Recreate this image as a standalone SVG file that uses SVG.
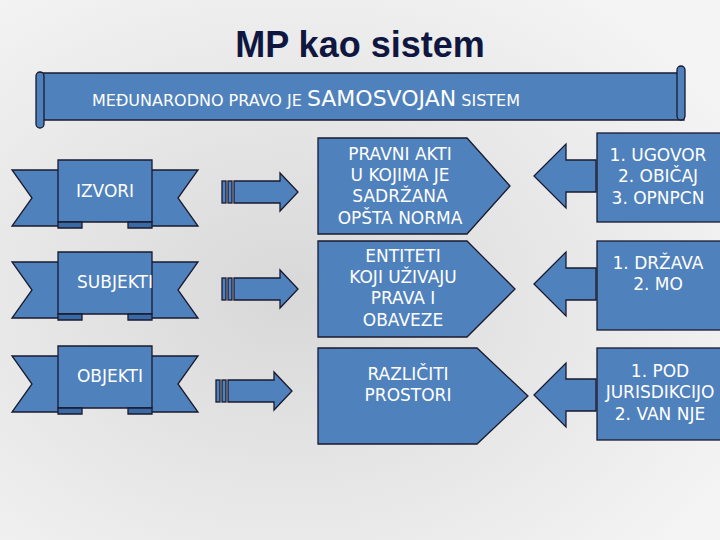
<svg xmlns="http://www.w3.org/2000/svg" width="720" height="540" viewBox="0 0 720 540">
<style>
.s{fill:#4f81bd;stroke:#1a1a2e;stroke-width:1.3}
.t{fill:#fff;font-family:"DejaVu Sans",sans-serif;font-size:17px;text-anchor:middle}
.d{fill:#3a6aa5;stroke:#1a1a2e;stroke-width:1.3}
</style>
<defs>
<radialGradient id="bg" cx="0.4" cy="0.55" r="0.7"><stop offset="0" stop-color="#d8d8d8"/><stop offset="1" stop-color="#f4f4f4"/></radialGradient>
<g id="rarrow"><rect class="s" x="0" y="-11" width="4" height="22"/><rect class="s" x="6" y="-11" width="4" height="22"/><path class="s" d="M12,-11H58V-19L76,0L58,19V11H12Z"/></g>
<g id="larrow"><path class="s" d="M0,0L32,-32V-16H62V16H32V32Z"/></g>
<g id="rib"><path class="s" d="M12,4H60V60H12L32,32Z"/><path class="s" d="M198,4H150V60H198L178,32Z"/><path class="s" d="M58,-6H152V56H58Z"/><path class="d" d="M58,56h24v6h-24zM128,56h24v6h-24z"/></g>
</defs>
<rect width="720" height="540" fill="url(#bg)"/>
<text x="360" y="57" font-family="Liberation Sans,sans-serif" font-size="36" font-weight="bold" text-anchor="middle" fill="#0f1740">MP kao sistem</text>
<g id="banner"><path class="s" d="M40,73H684V120H40Z"/><rect class="s" x="36" y="72" width="8" height="56" rx="4"/><rect class="s" x="677" y="66" width="8" height="54" rx="4"/>
<text x="92" y="106" font-family="DejaVu Sans,sans-serif" font-size="16" fill="#fff">MEĐUNARODNO PRAVO JE <tspan font-size="22">SAMOSVOJAN</tspan> SISTEM</text></g>
<g id="izvori"><use href="#rib" x="0" y="166"/><text class="t" x="105" y="197">IZVORI</text></g>
<g id="subjekti"><use href="#rib" x="0" y="258"/><text class="t" x="115" y="288">SUBJEKTI</text></g>
<g id="objekti"><use href="#rib" x="0" y="352"/><text class="t" x="110" y="382">OBJEKTI</text></g>
<g id="pravni"><path class="s" d="M318,138H467L510,186L467,234H318Z"/><text class="t"><tspan x="400" y="160">PRAVNI AKTI</tspan><tspan x="400" y="181">U KOJIMA JE</tspan><tspan x="400" y="202">SADRŽANA</tspan><tspan x="400" y="224">OPŠTA NORMA</tspan></text></g>
<g id="entiteti"><path class="s" d="M318,241H467L515,289L467,337H318Z"/><text class="t"><tspan x="403" y="262">ENTITETI</tspan><tspan x="403" y="283">KOJI UŽIVAJU</tspan><tspan x="403" y="304">PRAVA I</tspan><tspan x="403" y="326">OBAVEZE</tspan></text></g>
<g id="razliciti"><path class="s" d="M318,348H477L528,396L477,444H318Z"/><text class="t"><tspan x="408" y="380">RAZLIČITI</tspan><tspan x="408" y="401">PROSTORI</tspan></text></g>
<g id="b1"><rect class="s" x="597" y="133" width="130" height="89"/><text class="t"><tspan x="658" y="161">1.  UGOVOR</tspan><tspan x="658" y="182">2.  OBIČAJ</tspan><tspan x="658" y="204">3.  OPNPCN</tspan></text></g>
<g id="b2"><rect class="s" x="597" y="241" width="130" height="89"/><text class="t"><tspan x="658" y="269">1.  DRŽAVA</tspan><tspan x="658" y="290">2.  MO</tspan></text></g>
<g id="b3"><rect class="s" x="597" y="348" width="130" height="92"/><text class="t"><tspan x="660" y="377">1.  POD</tspan><tspan x="660" y="398">JURISDIKCIJO</tspan><tspan x="660" y="420">2. VAN NJE</tspan></text></g>
<g id="connectors">
<use href="#rarrow" x="222" y="192"/><use href="#rarrow" x="222" y="289"/><use href="#rarrow" x="216" y="391"/>
<use href="#larrow" x="534" y="176"/><use href="#larrow" x="534" y="284"/><use href="#larrow" x="534" y="395"/>
</g>
</svg>
